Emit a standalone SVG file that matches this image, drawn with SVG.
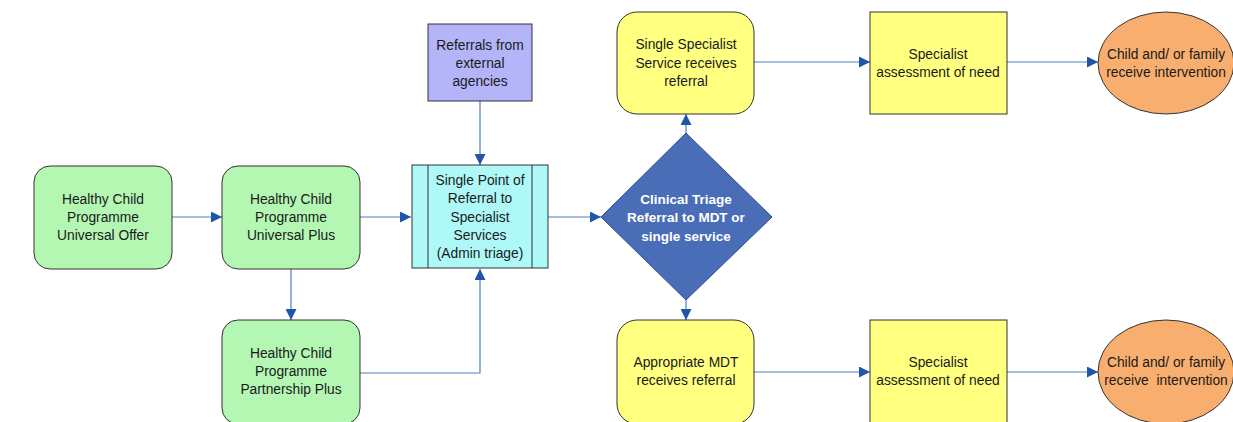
<svg xmlns="http://www.w3.org/2000/svg" width="1233" height="422" viewBox="0 0 1233 422">
<style>
text{font-family:"Liberation Sans","Open Sans",Arial,sans-serif;font-size:13.8px;fill:#1a1a1a;text-anchor:middle}
.g{fill:#b3f7b3;stroke:#333;stroke-width:1}
.c{fill:#aef8f8;stroke:#333;stroke-width:1}
.p{fill:#b4b4f8;stroke:#333;stroke-width:1}
.y{fill:#ffff80;stroke:#333;stroke-width:1}
.o{fill:#f8ae6e;stroke:#333;stroke-width:1}
.d{fill:#4a6db8;stroke:#2f4f8f;stroke-width:1}
.w{fill:#fff;font-weight:bold;font-size:13.5px}
.e{fill:none;stroke:#4f7fbf;stroke-width:1.2;marker-end:url(#a)}
</style>
<defs>
<marker id="a" viewBox="0 0 11 11" refX="11" refY="5.5" markerWidth="11" markerHeight="11" markerUnits="userSpaceOnUse" orient="auto">
<path d="M0,0 L11,5.5 L0,11 z" fill="#1f56a8"/>
</marker>
</defs>
<rect width="1233" height="422" fill="#fff"/>
<g id="connectors">
<path class="e" d="M172,217 H222"/>
<path class="e" d="M360,217 H411"/>
<path class="e" d="M291,269 V320"/>
<path class="e" d="M360,373 H480 V269"/>
<path class="e" d="M480,101 V165"/>
<path class="e" d="M548,217 H601"/>
<path class="e" d="M686,133 V114"/>
<path class="e" d="M686,300 V320"/>
<path class="e" d="M754,62 H870"/>
<path class="e" d="M1007,62 H1098"/>
<path class="e" d="M754,372 H870"/>
<path class="e" d="M1007,372 H1098"/>
</g>
<g id="hcp-universal-offer">
<rect class="g" x="34" y="166" width="138" height="103" rx="16"/>
<text x="103" y="204">Healthy Child</text><text x="103" y="222">Programme</text><text x="103" y="240">Universal Offer</text>
</g>
<g id="hcp-universal-plus">
<rect class="g" x="222" y="166" width="138" height="103" rx="16"/>
<text x="291" y="204">Healthy Child</text><text x="291" y="222">Programme</text><text x="291" y="240">Universal Plus</text>
</g>
<g id="hcp-partnership-plus">
<rect class="g" x="222" y="320" width="138" height="104" rx="16"/>
<text x="291" y="358">Healthy Child</text><text x="291" y="376">Programme</text><text x="291" y="394">Partnership Plus</text>
</g>
<g id="external-referrals">
<rect class="p" x="428" y="24" width="104" height="77"/>
<text x="480" y="50">Referrals from</text><text x="480" y="68">external</text><text x="480" y="86">agencies</text>
</g>
<g id="single-point-referral">
<rect class="c" x="412" y="165" width="136" height="103"/>
<line x1="428" y1="165" x2="428" y2="268" stroke="#333"/>
<line x1="532" y1="165" x2="532" y2="268" stroke="#333"/>
<text x="480" y="185">Single Point of</text><text x="480" y="203">Referral to</text><text x="480" y="222">Specialist</text><text x="480" y="240">Services</text><text x="480" y="258">(Admin triage)</text>
</g>
<g id="clinical-triage">
<polygon class="d" points="686,133 772,217 686,300 601,217"/>
<text class="w" x="686" y="204">Clinical Triage</text><text class="w" x="686" y="222">Referral to MDT or</text><text class="w" x="686" y="241">single service</text>
</g>
<g id="single-specialist">
<rect class="y" x="617" y="12" width="137" height="102" rx="20"/>
<text x="686" y="49">Single Specialist</text><text x="686" y="68">Service receives</text><text x="686" y="86">referral</text>
</g>
<g id="assessment-top">
<rect class="y" x="870" y="12" width="137" height="102"/>
<text x="938" y="59">Specialist</text><text x="938" y="77">assessment of need</text>
</g>
<g id="intervention-top">
<ellipse class="o" cx="1166" cy="63" rx="68" ry="51"/>
<text x="1166" y="59">Child and/ or family</text><text x="1166" y="77">receive intervention</text>
</g>
<g id="appropriate-mdt">
<rect class="y" x="617" y="320" width="137" height="104" rx="20"/>
<text x="686" y="367">Appropriate MDT</text><text x="686" y="385">receives referral</text>
</g>
<g id="assessment-bottom">
<rect class="y" x="870" y="320" width="137" height="104"/>
<text x="938" y="367">Specialist</text><text x="938" y="385">assessment of need</text>
</g>
<g id="intervention-bottom">
<ellipse class="o" cx="1166" cy="372" rx="68" ry="52"/>
<text x="1166" y="367">Child and/ or family</text><text x="1166" y="385" xml:space="preserve">receive  intervention</text>
</g>
</svg>
